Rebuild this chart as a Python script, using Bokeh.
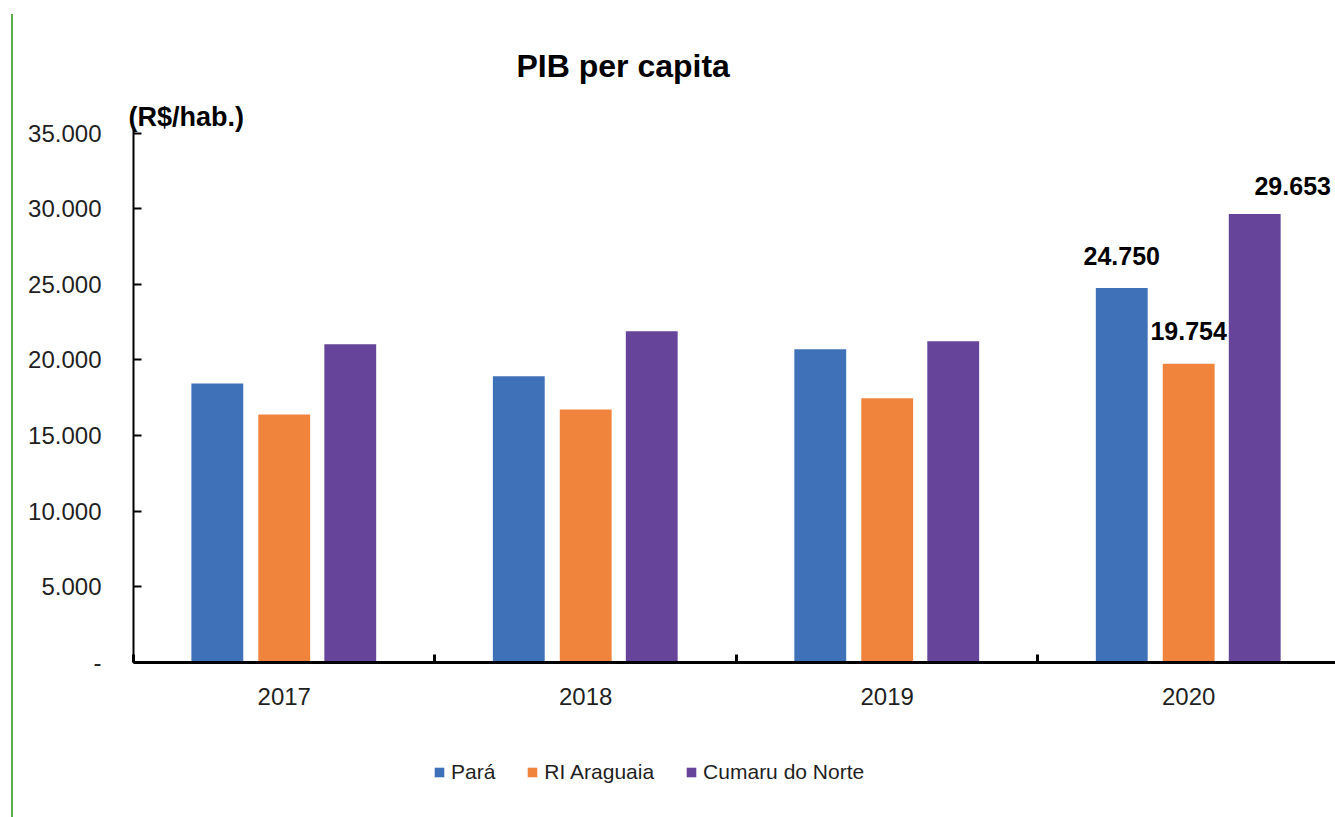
from bokeh.plotting import figure
from bokeh.layouts import column
from bokeh.models import Range1d, FixedTicker, Legend, LegendItem, Title, ColumnDataSource
from bokeh.transform import dodge
from bokeh.core.properties import value
from bokeh.embed import file_html
from bokeh.resources import INLINE

# ---- data ----
years = ["2017", "2018", "2019", "2020"]
para = [18450, 18920, 20700, 24750]
ri_araguaia = [16400, 16730, 17460, 19754]
cumaru = [21030, 21890, 21230, 29653]
series_names = ["Pará", "RI Araguaia", "Cumaru do Norte"]
colors = ["#3F71B9", "#F0843C", "#65449A"]
y_ticks = [0, 5000, 10000, 15000, 20000, 25000, 30000, 35000]
labeled_year = "2020"
title_text = "PIB per capita"
unit_text = "(R$/hab.)"


def fmt(v):
    return "-" if v == 0 else f"{v:,.0f}".replace(",", ".")


FONT = "Liberation Sans"
TXT = "#1f1f1f"

centers = [i + 0.5 for i in range(len(years))]
bounds = [float(i) for i in range(len(years) + 1)]

p = figure(width=1322, height=726,
           x_range=Range1d(0, 3.987), y_range=Range1d(0, 35300),
           output_backend="svg", toolbar_location=None,
           min_border_left=120, min_border_right=0,
           min_border_top=114, min_border_bottom=78)
p.xgrid.visible = False
p.ygrid.visible = False
p.outline_line_color = None
p.background_fill_color = "white"
p.border_fill_color = "white"

# title (outermost) and unit label (next to the frame)
p.title.text = title_text
p.title.align = "left"
p.title.offset = 383
p.title.standoff = 40
p.title.text_font = FONT
p.title.text_font_size = "32px"
p.title.text_font_style = "bold"
p.title.text_color = "black"

unit = Title(text=unit_text, align="left", offset=-5, standoff=-7,
             text_font=FONT, text_font_size="27px", text_font_style="bold",
             text_color="black")
p.add_layout(unit, "above")

# x axis
xa = p.xaxis[0]
xa.ticker = FixedTicker(ticks=centers, minor_ticks=bounds)
xa.major_label_overrides = {c: y for c, y in zip(centers, years)}
xa.axis_line_width = 3
xa.axis_line_color = "black"
xa.major_tick_in = 0
xa.major_tick_out = 0
xa.minor_tick_in = 8
xa.minor_tick_out = 0
xa.minor_tick_line_width = 3
xa.minor_tick_line_color = "black"
xa.major_label_standoff = 25
xa.major_label_text_font = FONT
xa.major_label_text_font_size = "24px"
xa.major_label_text_color = TXT

# y axis
ya = p.yaxis[0]
ya.ticker = FixedTicker(ticks=y_ticks)
ya.major_label_overrides = {t: fmt(t) for t in y_ticks}
ya.axis_line_width = 2
ya.axis_line_color = "black"
ya.major_tick_in = 8
ya.major_tick_out = 0
ya.major_tick_line_width = 2
ya.major_tick_line_color = "black"
ya.minor_tick_line_color = None
ya.major_label_standoff = 32
ya.major_label_text_font = FONT
ya.major_label_text_font_size = "24px"
ya.major_label_text_color = TXT

src = ColumnDataSource(dict(x=centers, para=para, ri=ri_araguaia, cumaru=cumaru))
keys = ["para", "ri", "cumaru"]
offsets = [-0.222, 0.0, 0.219]
bar_w = 0.172

for k, off, col in zip(keys, offsets, colors):
    p.vbar(x=dodge("x", off, range=p.x_range), top=k, width=bar_w, bottom=0,
           source=src, fill_color=col, line_color=None)

# data labels for the last year
li = years.index(labeled_year)
series_vals = [para, ri_araguaia, cumaru]
label_xshift = [0, 0, 38]
label_yshift = [-32, -33, -28]
for vals, off, xs, ys in zip(series_vals, offsets, label_xshift, label_yshift):
    ls = ColumnDataSource(dict(x=[centers[li]], y=[vals[li]], t=[fmt(vals[li])]))
    p.text(x=dodge("x", off, range=p.x_range), y="y", text="t", source=ls,
           text_align="center", text_baseline="alphabetic", y_offset=ys, x_offset=xs,
           text_font=value(FONT), text_font_size="25px", text_font_style="bold",
           text_color="black")

# legend strip below the chart (zero-size swatch renderers, outside the view)
lg = figure(width=1322, height=77, x_range=Range1d(10, 11), y_range=Range1d(10, 11),
            output_backend="svg", toolbar_location=None,
            x_axis_location=None, y_axis_location=None, min_border=0)
lg.xgrid.visible = False
lg.ygrid.visible = False
lg.outline_line_color = None
lg.background_fill_color = "white"
lg.border_fill_color = "white"
items = []
for n, col in zip(series_names, colors):
    r = lg.vbar(x="x", top=0, bottom=0, width=0, source=src,
                fill_color=col, line_color=None)
    items.append(LegendItem(label=n, renderers=[r]))
legend = Legend(items=items, orientation="horizontal", location=(300, 33),
                glyph_width=12, glyph_height=12, spacing=31, label_standoff=6,
                padding=0, margin=0, border_line_color=None, background_fill_alpha=0,
                label_text_font=FONT, label_text_font_size="21px", label_text_color=TXT,
                label_height=24)
lg.add_layout(legend)

layout = column(p, lg, spacing=0,
                styles={"margin-left": "11px", "margin-top": "14px",
                        "border-left": "2px solid #5FAE4E"})

open("out.html", "w").write(file_html(layout, INLINE))
